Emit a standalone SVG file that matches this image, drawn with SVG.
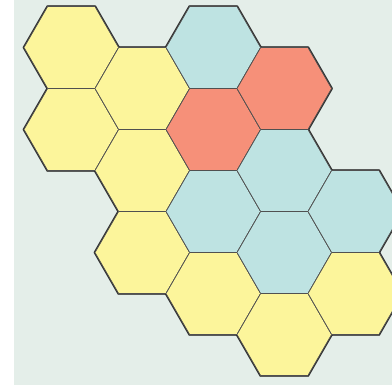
<svg xmlns="http://www.w3.org/2000/svg" xmlns:xlink="http://www.w3.org/1999/xlink" width="392" height="385" viewBox="0 0 392 385">
  <style>
    .hex { stroke: #505050; stroke-width: 1; stroke-linejoin: round; }
    .outline { fill: none; stroke: #2a2a2a; stroke-width: 2.6; stroke-linejoin: round; }
    .y { fill: #fcf59b; }
    .t { fill: #bee3e2; }
    .s { fill: #f69079; }
  </style>
  <defs>
    <polygon id="hx" points="-47.3,0 -23.65,-41 23.65,-41 47.3,0 23.65,41 -23.65,41"/>
  </defs>
  <rect x="0" y="0" width="392" height="385" fill="#ffffff"/>
  <rect x="14" y="0" width="378" height="385" fill="#e4eee9"/>
  <g id="outline">
    <use href="#hx" class="outline" x="71.3" y="47.5"/>
    <use href="#hx" class="outline" x="71.3" y="129.5"/>
    <use href="#hx" class="outline" x="142.3" y="88.5"/>
    <use href="#hx" class="outline" x="142.3" y="170.5"/>
    <use href="#hx" class="outline" x="142.3" y="252.5"/>
    <use href="#hx" class="outline" x="213.3" y="47.5"/>
    <use href="#hx" class="outline" x="213.3" y="129.5"/>
    <use href="#hx" class="outline" x="213.3" y="211.5"/>
    <use href="#hx" class="outline" x="213.3" y="293.5"/>
    <use href="#hx" class="outline" x="284.3" y="88.5"/>
    <use href="#hx" class="outline" x="284.3" y="170.5"/>
    <use href="#hx" class="outline" x="284.3" y="252.5"/>
    <use href="#hx" class="outline" x="284.3" y="334.5"/>
    <use href="#hx" class="outline" x="355.3" y="211.5"/>
    <use href="#hx" class="outline" x="355.3" y="293.5"/>
  </g>
  <g id="connectors"></g>
  <g id="h00"><use href="#hx" class="hex y" x="71.3" y="47.5"/></g>
  <g id="h01"><use href="#hx" class="hex y" x="71.3" y="129.5"/></g>
  <g id="h10"><use href="#hx" class="hex y" x="142.3" y="88.5"/></g>
  <g id="h11"><use href="#hx" class="hex y" x="142.3" y="170.5"/></g>
  <g id="h12"><use href="#hx" class="hex y" x="142.3" y="252.5"/></g>
  <g id="h20"><use href="#hx" class="hex t" x="213.3" y="47.5"/></g>
  <g id="h21"><use href="#hx" class="hex s" x="213.3" y="129.5"/></g>
  <g id="h22"><use href="#hx" class="hex t" x="213.3" y="211.5"/></g>
  <g id="h23"><use href="#hx" class="hex y" x="213.3" y="293.5"/></g>
  <g id="h30"><use href="#hx" class="hex s" x="284.3" y="88.5"/></g>
  <g id="h31"><use href="#hx" class="hex t" x="284.3" y="170.5"/></g>
  <g id="h32"><use href="#hx" class="hex t" x="284.3" y="252.5"/></g>
  <g id="h33"><use href="#hx" class="hex y" x="284.3" y="334.5"/></g>
  <g id="h41"><use href="#hx" class="hex t" x="355.3" y="211.5"/></g>
  <g id="h42"><use href="#hx" class="hex y" x="355.3" y="293.5"/></g>
</svg>
